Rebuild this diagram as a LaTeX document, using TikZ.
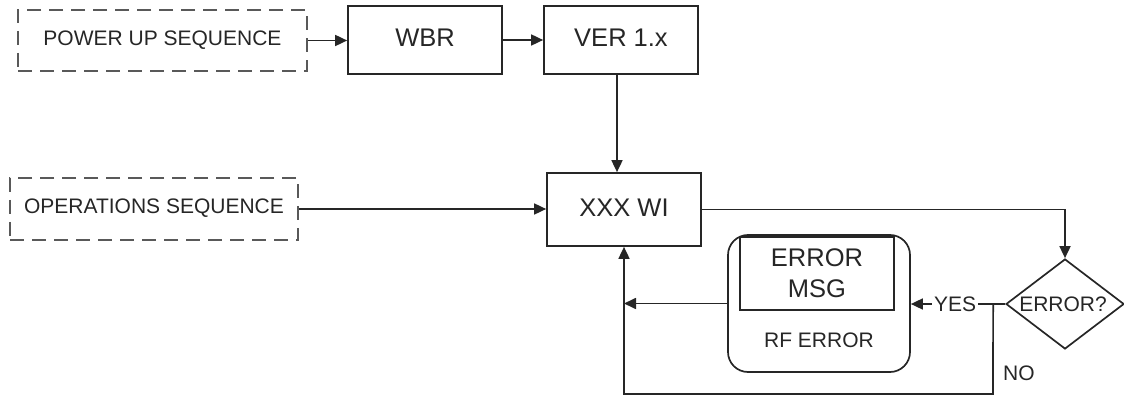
\documentclass[tikz,border=0pt]{standalone}
\usepackage{fontspec}
\setmainfont{Liberation Sans}
\usetikzlibrary{arrows.meta,shapes.geometric}
\begin{document}
\begin{tikzpicture}[x=1pt,y=-1pt,
  ln/.style={draw=black!85, line width=1.7pt},
  arr/.style={ln, -{Triangle[length=12pt,width=11pt]}},
  bigbox/.style={ln, fill=white, minimum width=154pt, inner sep=0pt, text=black!85,
    font=\fontsize{25.5}{30}\selectfont, text height=18pt, text depth=4pt},
  dbox/.style={draw=black!65, line width=1.8pt, dash pattern=on 14pt off 8pt, inner sep=0pt, text=black!85,
    font=\fontsize{21}{25}\selectfont, text height=15pt, text depth=5pt},
  lbl/.style={font=\fontsize{21}{25}\selectfont, inner sep=0pt, text=black!85, text height=15pt, text depth=5pt}
]
\useasboundingbox (0,0) rectangle (1124,398);

\node[dbox, minimum width=289pt, minimum height=61pt] (pus) at (162.5,40.5) {POWER UP SEQUENCE};
\node[bigbox, minimum height=68pt] (wbr) at (425,40) {WBR};
\node[bigbox, minimum height=68pt] (ver) at (621,40) {VER 1.x};
\node[dbox, minimum width=288pt, minimum height=62pt] (ops) at (154,209) {OPERATIONS SEQUENCE};
\node[bigbox, minimum height=73pt] (xxx) at (624,209.5) {XXX WI};
\node[ln, diamond, minimum width=118pt, minimum height=90pt, inner sep=0pt] (dia) at (1065,304) {};
\node[lbl] (diat) at (1063,306) {ERROR?};
\node[ln, rounded corners=20pt, minimum width=182pt, minimum height=137pt, inner sep=0pt] (rf) at (819,303.5) {};
\node[ln, minimum width=154pt, minimum height=73pt, inner sep=0pt, align=center, text=black!85,
  font=\fontsize{25.5}{31}\selectfont] (msg) at (817,273.5) {ERROR\\MSG};
\node[lbl] (rft) at (819,342) {RF ERROR};

\coordinate (br) at ([xshift=-12pt]dia.west);
\coordinate (bot) at (993,394);

\draw[arr] (pus.east) -- (pus.east -| wbr.west);
\draw[arr] (wbr) -- (ver);
\draw[arr] ([xshift=-4pt]ver.south) -- ([xshift=-4pt]ver.south |- xxx.north);
\draw[arr] (ops.east) -- (ops.east -| xxx.west);
\draw[arr] (xxx.east) -| (dia.north);
\draw[arr] (dia.west) -- node[lbl, pos=0.53, fill=white, inner xsep=2pt, text depth=0pt] (yes) {YES} (rf.east |- dia.west);
\draw[arr] (br) -- (bot) -| (xxx.south);
\draw[arr] (rf.west) -- (rf.west -| xxx.south);
\node[lbl, anchor=west] (no) at (1003,375.5) {NO};
\end{tikzpicture}
\end{document}
